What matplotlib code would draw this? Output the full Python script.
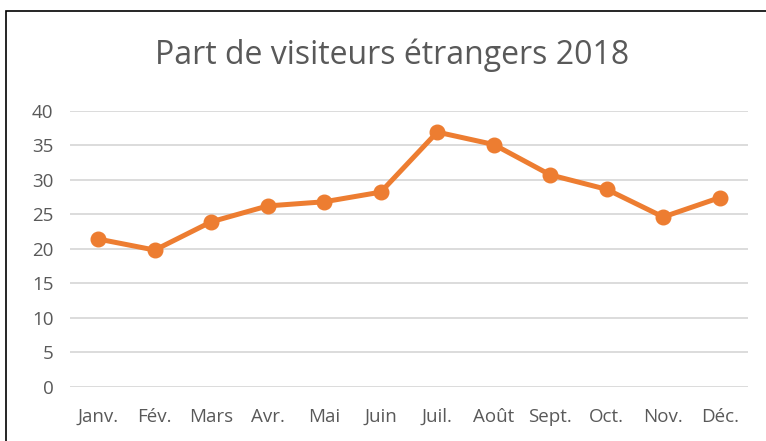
import matplotlib
matplotlib.use("Agg")
import matplotlib.pyplot as plt
from matplotlib.patches import Rectangle

months = ["Janv.", "Fév.", "Mars", "Avr.", "Mai", "Juin", "Juil.", "Août", "Sept.", "Oct.", "Nov.", "Déc."]
values = [21.4, 19.8, 23.9, 26.2, 26.8, 28.2, 36.9, 35.1, 30.7, 28.6, 24.6, 27.4]
yticks = [0, 5, 10, 15, 20, 25, 30, 35, 40]
title = "Part de visiteurs étrangers 2018"

plt.rcParams['font.family'] = ['Open Sans', 'DejaVu Sans']
W, H = 766, 441
fig = plt.figure(figsize=(W/100, H/100), dpi=100)
ax = fig.add_axes([70/W, 1-386.7/H, (748-70)/W, (386.7-110.7)/H])

x = list(range(len(months)))
ax.plot(x, values, color="#ED7D31", linewidth=3.6, marker="o", markersize=10.5,
        solid_capstyle="round", zorder=3)
ax.set_xlim(-0.5, len(months)-0.5)
ax.set_ylim(0, 40)
ax.set_yticks(yticks)
ax.set_xticks(x)
ax.set_xticklabels(months)
ax.grid(axis="y", color="#D9D9D9", linewidth=1.3)
ax.set_axisbelow(True)
for s in ax.spines.values():
    s.set_visible(False)
ax.tick_params(length=0, labelsize=13.5, colors="#595959", pad=12)
ax.tick_params(axis="x", pad=15)

fig.text(392/W, 1-55/H, title, ha="center", va="center", fontsize=23, color="#595959")
fig.patches.append(Rectangle((6/W, -0.1), 1.2, 1-11/H+0.1, transform=fig.transFigure,
                             fill=False, edgecolor="black", linewidth=1.2))
fig.savefig("out.png", dpi=100)
